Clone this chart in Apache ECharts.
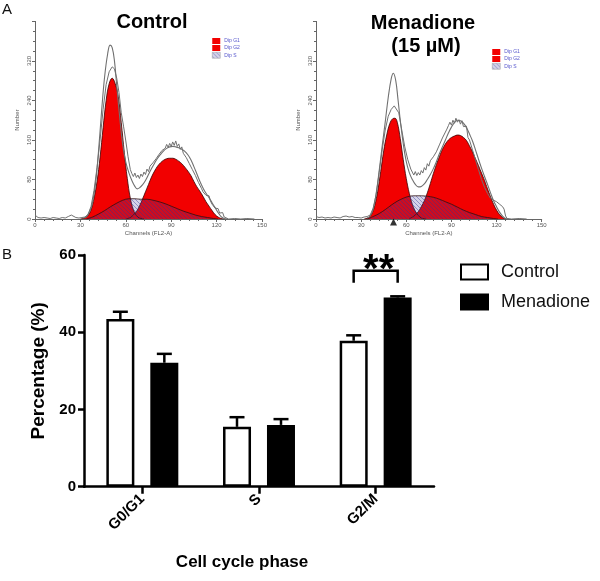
<!DOCTYPE html>
<html><head><meta charset="utf-8">
<script src="https://cdn.jsdelivr.net/npm/echarts@6/dist/echarts.min.js"></script>
<style>html,body{margin:0;padding:0;background:#fff}#c{width:600px;height:581px}</style>
</head><body><div id="c"></div>
<script>
// ---------- Panel A: histograms, [channel, number] ----------
const ctlG1 = [[30,0],[33,2],[35,7],[37,18],[39,42],[41,76],[43,125],[45,185],[47,240],[49,274],[51,285],[53,274],[55,248],[57,195],[59,135],[61,82],[63,42],[65,19],[67,7],[69,2],[72,0]];
const ctlG2 = [[60,0],[63,3],[65,8],[67,15],[69,26],[71,40],[73,55],[75,70],[77,85],[79,97],[81,107],[83,114],[85,119],[87,122],[89,123],[91,123],[93,121],[95,117],[97,112],[99,105],[101,97],[103,88],[105,76],[107,65],[109,56],[111,46],[113,35],[115,26],[117,17],[119,9],[121,4],[123,1],[125,0]];
const ctlS = [[34,0],[38,4],[42,10],[46,17],[50,25],[54,32],[58,38],[62,41],[66,41],[70,40],[74,40],[78,38],[82,35],[86,31],[90,26],[94,21],[98,16],[102,12],[106,8],[110,5],[114,3],[118,1],[121,0]];
const ctlFit = [[32,2],[34,5],[36,14],[38,33],[40,72],[42,138],[44,218],[46,288],[48,334],[49.6,352],[51,347],[52.5,320],[54,270],[56,205],[58,150],[60,115],[62,94],[64,78],[66,66],[67.5,61],[69,63],[71,69],[73,78],[75,90],[77,102],[79,113],[81,123],[83,131],[85,138],[87,143],[89,146],[91,147],[93,146],[95,144],[97,141],[99,137],[101,130],[103,120],[105,106],[107,91],[109,76],[111,63],[113,52],[115,43],[117,33],[119,23],[121,13],[123,5],[125,1],[127,0]];
const ctlData = [[0,8],[1,5],[2,3],[4,2],[6,3],[8,2],[10,1],[12,3],[14,2],[16,1],[18,3],[20,2],[22,5],[24,8],[25,6],[27,3],[29,2],[31,3],[33,4],[35,9],[37,25],[39,58],[41,104],[43,160],[45,222],[47,272],[49,298],[51,308],[52.5,304],[54,285],[55.5,256],[57,215],[58.5,188],[60,158],[61.5,126],[63,100],[64,92],[65,86],[66,93],[67,84],[68,89],[69,82],[70,91],[71,86],[72,95],[73,90],[74,101],[75,96],[76,107],[77,104],[78,114],[80,122],[82,131],[84,139],[85,137],[86,143],[87,151],[88,145],[89,153],[90,147],[91,156],[92,149],[93,158],[94,147],[95,152],[96,141],[97,146],[98,133],[100,124],[102,112],[104,100],[106,88],[108,74],[110,62],[111,55],[112,58],[113,48],[114,44],[115,47],[116,36],[117,30],[118,33],[119,22],[120,18],[121,21],[122,12],[123,8],[124,13],[125,4],[126,1],[128,0],[132,1],[136,0],[140,1],[145,0]];

const menG1 = [[32,0],[35,3],[37,10],[39,27],[41,56],[43,96],[45,138],[47,170],[49,193],[51,203],[52.5,204],[54,196],[56,163],[58,120],[60,82],[62,52],[64,30],[66,16],[68,7],[70,2],[73,0]];
const menG2 = [[62,0],[64,4],[66,8],[68,15],[70,25],[72,37],[74,53],[76,72],[78,92],[80,110],[82,126],[84,141],[86,152],[88,160],[90,165],[92,168],[94,170],[96,169],[98,165],[100,159],[102,148],[104,136],[106,122],[108,108],[110,93],[112,78],[114,61],[116,45],[118,30],[120,18],[122,9],[124,3],[126,0]];
const menS = [[34,0],[38,5],[42,11],[46,19],[50,28],[54,36],[58,42],[62,46],[66,47],[70,47],[74,46],[78,44],[82,40],[86,35],[90,30],[94,24],[98,18],[102,13],[106,9],[110,5],[114,3],[118,1],[121,0]];
const menFit = [[34,2],[36,6],[38,20],[40,52],[42,98],[44,148],[46,196],[48,246],[50,284],[51.4,295],[53,280],[54.5,242],[56,200],[58,152],[60,116],[62,94],[64,80],[66,70],[68,65],[70,66],[72,71],[74,80],[76,90],[78,102],[80,116],[82,132],[84,146],[86,160],[88,174],[90,186],[92,195],[94,200],[96,199],[98,194],[100,185],[102,172],[104,158],[106,140],[108,121],[110,103],[112,86],[114,70],[116,53],[118,37],[120,25],[122,14],[124,6],[126,1],[128,0]];
const menData = [[0,5],[2,3],[4,4],[6,2],[8,3],[10,2],[12,4],[14,3],[16,2],[18,5],[20,6],[22,4],[24,5],[26,3],[28,3],[30,2],[32,4],[34,5],[36,8],[38,22],[40,50],[42,94],[44,140],[46,180],[48,208],[50,222],[52,229],[53.2,231],[55,215],[57,180],[59,146],[61,120],[63,101],[64,95],[65,89],[66,96],[67,88],[68,94],[69,89],[70,98],[71,93],[72,104],[73,99],[74,112],[75,107],[76,118],[77,114],[78,126],[80,136],[82,150],[84,164],[86,176],[87,182],[88,189],[89,196],[90,190],[91,200],[92,194],[93,204],[94,196],[95,201],[96,192],[97,199],[98,187],[99,191],[100,188],[101,165],[102,160],[104,140],[106,120],[108,100],[110,80],[112,64],[114,52],[115,48],[116,42],[117,44],[118,38],[119,40],[120,35],[121,36],[122,30],[123,26],[124,25],[125,20],[126,6],[127,1],[130,0],[135,1],[140,0]];
const menMarker = [[51.5,-6]];

// ---------- Panel B: bar chart ----------
const phases = ['G0/G1','S','G2/M'];
const controlMean = [43.4, 15.5, 37.8];
const controlErr  = [1.9, 2.5, 1.4];
const menadioneMean = [32.1, 16.0, 49.0];
const menadioneErr  = [2.3, 1.5, 0.3];
const sigBracket = [[2, 55.9, 52.8]];
const sigLabel = '**';

const FONT = '"Liberation Sans", Arial, sans-serif';
const RED = '#f20000';

function hatchCanvas(){
  const c = document.createElement('canvas'); c.width = 4; c.height = 4;
  const g = c.getContext('2d');
  g.fillStyle = 'rgba(70,60,150,0.22)'; g.fillRect(0,0,4,4);
  g.strokeStyle = 'rgba(50,50,150,0.42)'; g.lineWidth = 1;
  g.beginPath();
  g.moveTo(0,0); g.lineTo(4,4);
  g.moveTo(-1,3); g.lineTo(1,5);
  g.moveTo(3,-1); g.lineTo(5,1);
  g.stroke();
  return c;
}
const HATCH = {image: hatchCanvas(), repeat: 'repeat'};

function histAxes(gi){
  const axCol = '#666';
  return {
    x: {type:'value', gridIndex:gi, min:0, max:150, interval:30,
      axisLine:{show:true, onZero:false, lineStyle:{color:axCol, width:1}},
      axisTick:{show:true, length:3, lineStyle:{color:axCol}},
      minorTick:{show:true, splitNumber:5, length:2, lineStyle:{color:axCol}},
      axisLabel:{fontSize:6, color:'#555', margin:3, fontFamily:FONT},
      splitLine:{show:false}, minorSplitLine:{show:false},
      name:'Channels (FL2-A)', nameLocation:'middle', nameGap:11,
      nameTextStyle:{fontSize:6, color:'#555', fontFamily:FONT}},
    y: {type:'value', gridIndex:gi, min:0, max:400, interval:80,
      axisLine:{show:true, lineStyle:{color:axCol, width:1}},
      axisTick:{show:true, length:3, lineStyle:{color:axCol}},
      minorTick:{show:true, splitNumber:4, length:2, lineStyle:{color:axCol}},
      axisLabel:{fontSize:6, color:'#555', margin:3, rotate:90, showMaxLabel:false, fontFamily:FONT},
      splitLine:{show:false}, minorSplitLine:{show:false},
      name:'Number', nameLocation:'middle', nameGap:15, nameRotate:90,
      nameTextStyle:{fontSize:6, color:'#555', fontFamily:FONT}}
  };
}
const hA = histAxes(0), hB = histAxes(1);

// S-phase hatched fill, translucent over the red peaks (darkens them where they overlap)
function sFillSeries(gi, s){
  return {
    type:'custom', xAxisIndex:gi, yAxisIndex:gi, silent:true, clip:true, z:3,
    data:[[s[0][0], s[0][1]]],
    renderItem: function(params, api){
      const pts = s.map(d => api.coord([d[0], d[1]]));
      return {type:'polygon', shape:{points:pts, smooth:0.35},
        style:{fill:HATCH, stroke:null}};
    }
  };
}

function histSeries(gi, g1, g2, s, fit, data){
  const base = {type:'line', xAxisIndex:gi, yAxisIndex:gi, showSymbol:false, symbol:'none', silent:true};
  return [
    Object.assign({}, base, {name:'Dip G1', data:g1, smooth:0.4, z:2, itemStyle:{color:RED},
      lineStyle:{color:'#3a0000', width:0.8}, areaStyle:{color:RED, opacity:1}}),
    Object.assign({}, base, {name:'Dip G2', data:g2, smooth:0.4, z:2, itemStyle:{color:RED},
      lineStyle:{color:'#3a0000', width:0.8}, areaStyle:{color:RED, opacity:1}}),
    sFillSeries(gi, s),
    Object.assign({}, base, {name:'Dip S', data:s, smooth:0.35, z:4, itemStyle:{color:'#8888cc'},
      lineStyle:{color:'#301010', width:0.8}}),
    Object.assign({}, base, {name:'fit'+gi, data:fit, smooth:0.4, z:4,
      lineStyle:{color:'#707070', width:1.1}}),
    Object.assign({}, base, {name:'data'+gi, data:data, smooth:false, z:4,
      lineStyle:{color:'#707070', width:1}})
  ];
}

function errSeries(means, errs, offset){
  return {
    type:'custom', xAxisIndex:2, yAxisIndex:2, silent:true, z:5,
    data: means.map((m,i)=>[i, m, m+errs[i]]),
    renderItem: function(params, api){
      const p = api.coord([api.value(0), api.value(1)]);
      const q = api.coord([api.value(0), api.value(2)]);
      const x = p[0] + offset;
      return {type:'group', children:[
        {type:'line', shape:{x1:x, y1:p[1], x2:x, y2:q[1]}, style:{stroke:'#000', lineWidth:2.5}},
        {type:'line', shape:{x1:x-7.5, y1:q[1], x2:x+7.5, y2:q[1]}, style:{stroke:'#000', lineWidth:2.5}}
      ]};
    }
  };
}

const bracketSeries = {
  type:'custom', xAxisIndex:2, yAxisIndex:2, silent:true, z:6,
  data: sigBracket,
  renderItem: function(params, api){
    const top = api.coord([api.value(0), api.value(1)]);
    const end = api.coord([api.value(0), api.value(2)]);
    const xl = top[0] - 22, xr = top[0] + 22;
    return {type:'group', children:[
      {type:'polyline', shape:{points:[[xl,end[1]],[xl,top[1]],[xr,top[1]],[xr,end[1]]]},
        style:{stroke:'#000', lineWidth:2.5, fill:null}},
      {type:'text', x:top[0]+3, y:top[1]+20, style:{text:sigLabel, font:'bold 40px '+FONT,
        fill:'#000', align:'center', verticalAlign:'bottom'}}
    ]};
  }
};

const option = {
  animation:false,
  backgroundColor:'#fff',
  textStyle:{fontFamily:FONT},
  grid:[
    {left:35, top:21.4, width:227, height:197.6},
    {left:316, top:21.4, width:225.7, height:197.6},
    {left:84, top:255, width:350, height:231.7}
  ],
  legend:[
    {data:[{name:'Dip G1'},{name:'Dip G2'},{name:'Dip S', itemStyle:{color:HATCH, borderColor:'#999', borderWidth:0.5}}],
     orient:'vertical', left:212, top:38, padding:0, itemWidth:8, itemHeight:6, itemGap:1, icon:'rect',
     selectedMode:false, textStyle:{fontSize:5, color:'#5555cc', fontFamily:FONT, padding:[0,0,0,-1]}},
    {data:[{name:'Dip G1'},{name:'Dip G2'},{name:'Dip S', itemStyle:{color:HATCH, borderColor:'#999', borderWidth:0.5}}],
     orient:'vertical', left:492, top:49, padding:0, itemWidth:8, itemHeight:6, itemGap:1, icon:'rect',
     selectedMode:false, textStyle:{fontSize:5, color:'#5555cc', fontFamily:FONT, padding:[0,0,0,-1]}},
    {data:['Control','Menadione'], orient:'vertical', left:460, top:263, padding:0,
     itemWidth:27, itemHeight:15, itemGap:12, icon:'rect', selectedMode:false,
     textStyle:{fontSize:18, color:'#111', fontFamily:FONT, padding:[0,0,0,8]}}
  ],
  xAxis:[hA.x, hB.x,
    {type:'category', gridIndex:2, data:phases,
     axisLine:{show:true, lineStyle:{color:'#000', width:2.5}},
     axisTick:{show:true, alignWithLabel:true, length:7, lineStyle:{color:'#000', width:2.5}},
     axisLabel:{rotate:45, fontSize:15, fontWeight:'bold', color:'#000', margin:10, fontFamily:FONT},
     splitLine:{show:false}}
  ],
  yAxis:[hA.y, hB.y,
    {type:'value', gridIndex:2, min:0, max:60, interval:20,
     axisLine:{show:true, lineStyle:{color:'#000', width:2.5}},
     axisTick:{show:true, length:6, lineStyle:{color:'#000', width:2.5}},
     axisLabel:{fontSize:15, fontWeight:'bold', color:'#000', margin:8, fontFamily:FONT},
     splitLine:{show:false},
     name:'Percentage (%)', nameLocation:'middle', nameGap:31, nameRotate:90,
     nameTextStyle:{fontSize:19, fontWeight:'bold', color:'#000', fontFamily:FONT}}
  ],
  series:[].concat(
    histSeries(0, ctlG1, ctlG2, ctlS, ctlFit, ctlData),
    histSeries(1, menG1, menG2, menS, menFit, menData),
    [{type:'scatter', xAxisIndex:1, yAxisIndex:1, data:menMarker, symbol:'triangle', symbolSize:[7,7],
      itemStyle:{color:'#000'}, clip:false, silent:true, z:10},
     {type:'bar', name:'Control', xAxisIndex:2, yAxisIndex:2, data:controlMean, barWidth:28, barGap:'57%',
      itemStyle:{color:'#fff', borderColor:'#000', borderWidth:2.5}},
     {type:'bar', name:'Menadione', xAxisIndex:2, yAxisIndex:2, data:menadioneMean, barWidth:28,
      itemStyle:{color:'#000', borderColor:'#000', borderWidth:2.5}},
     errSeries(controlMean, controlErr, -22),
     errSeries(menadioneMean, menadioneErr, 22),
     bracketSeries]
  ),
  graphic:[
    {type:'text', left:2, top:2, style:{text:'A', font:'15px '+FONT, fill:'#111'}},
    {type:'text', left:2, top:247, style:{text:'B', font:'15px '+FONT, fill:'#111'}},
    {type:'text', x:152, y:22, style:{text:'Control', font:'bold 20px '+FONT, fill:'#000', align:'center', verticalAlign:'middle'}},
    {type:'text', x:423, y:23, style:{text:'Menadione', font:'bold 20px '+FONT, fill:'#000', align:'center', verticalAlign:'middle'}},
    {type:'text', x:426, y:46, style:{text:'(15 µM)', font:'bold 20px '+FONT, fill:'#000', align:'center', verticalAlign:'middle'}},
    {type:'text', x:242, y:562, style:{text:'Cell cycle phase', font:'bold 17px '+FONT, fill:'#000', align:'center', verticalAlign:'middle'}}
  ]
};
const chart = echarts.init(document.getElementById('c'), null, {renderer:'canvas'});
chart.setOption(option);
</script></body></html>
